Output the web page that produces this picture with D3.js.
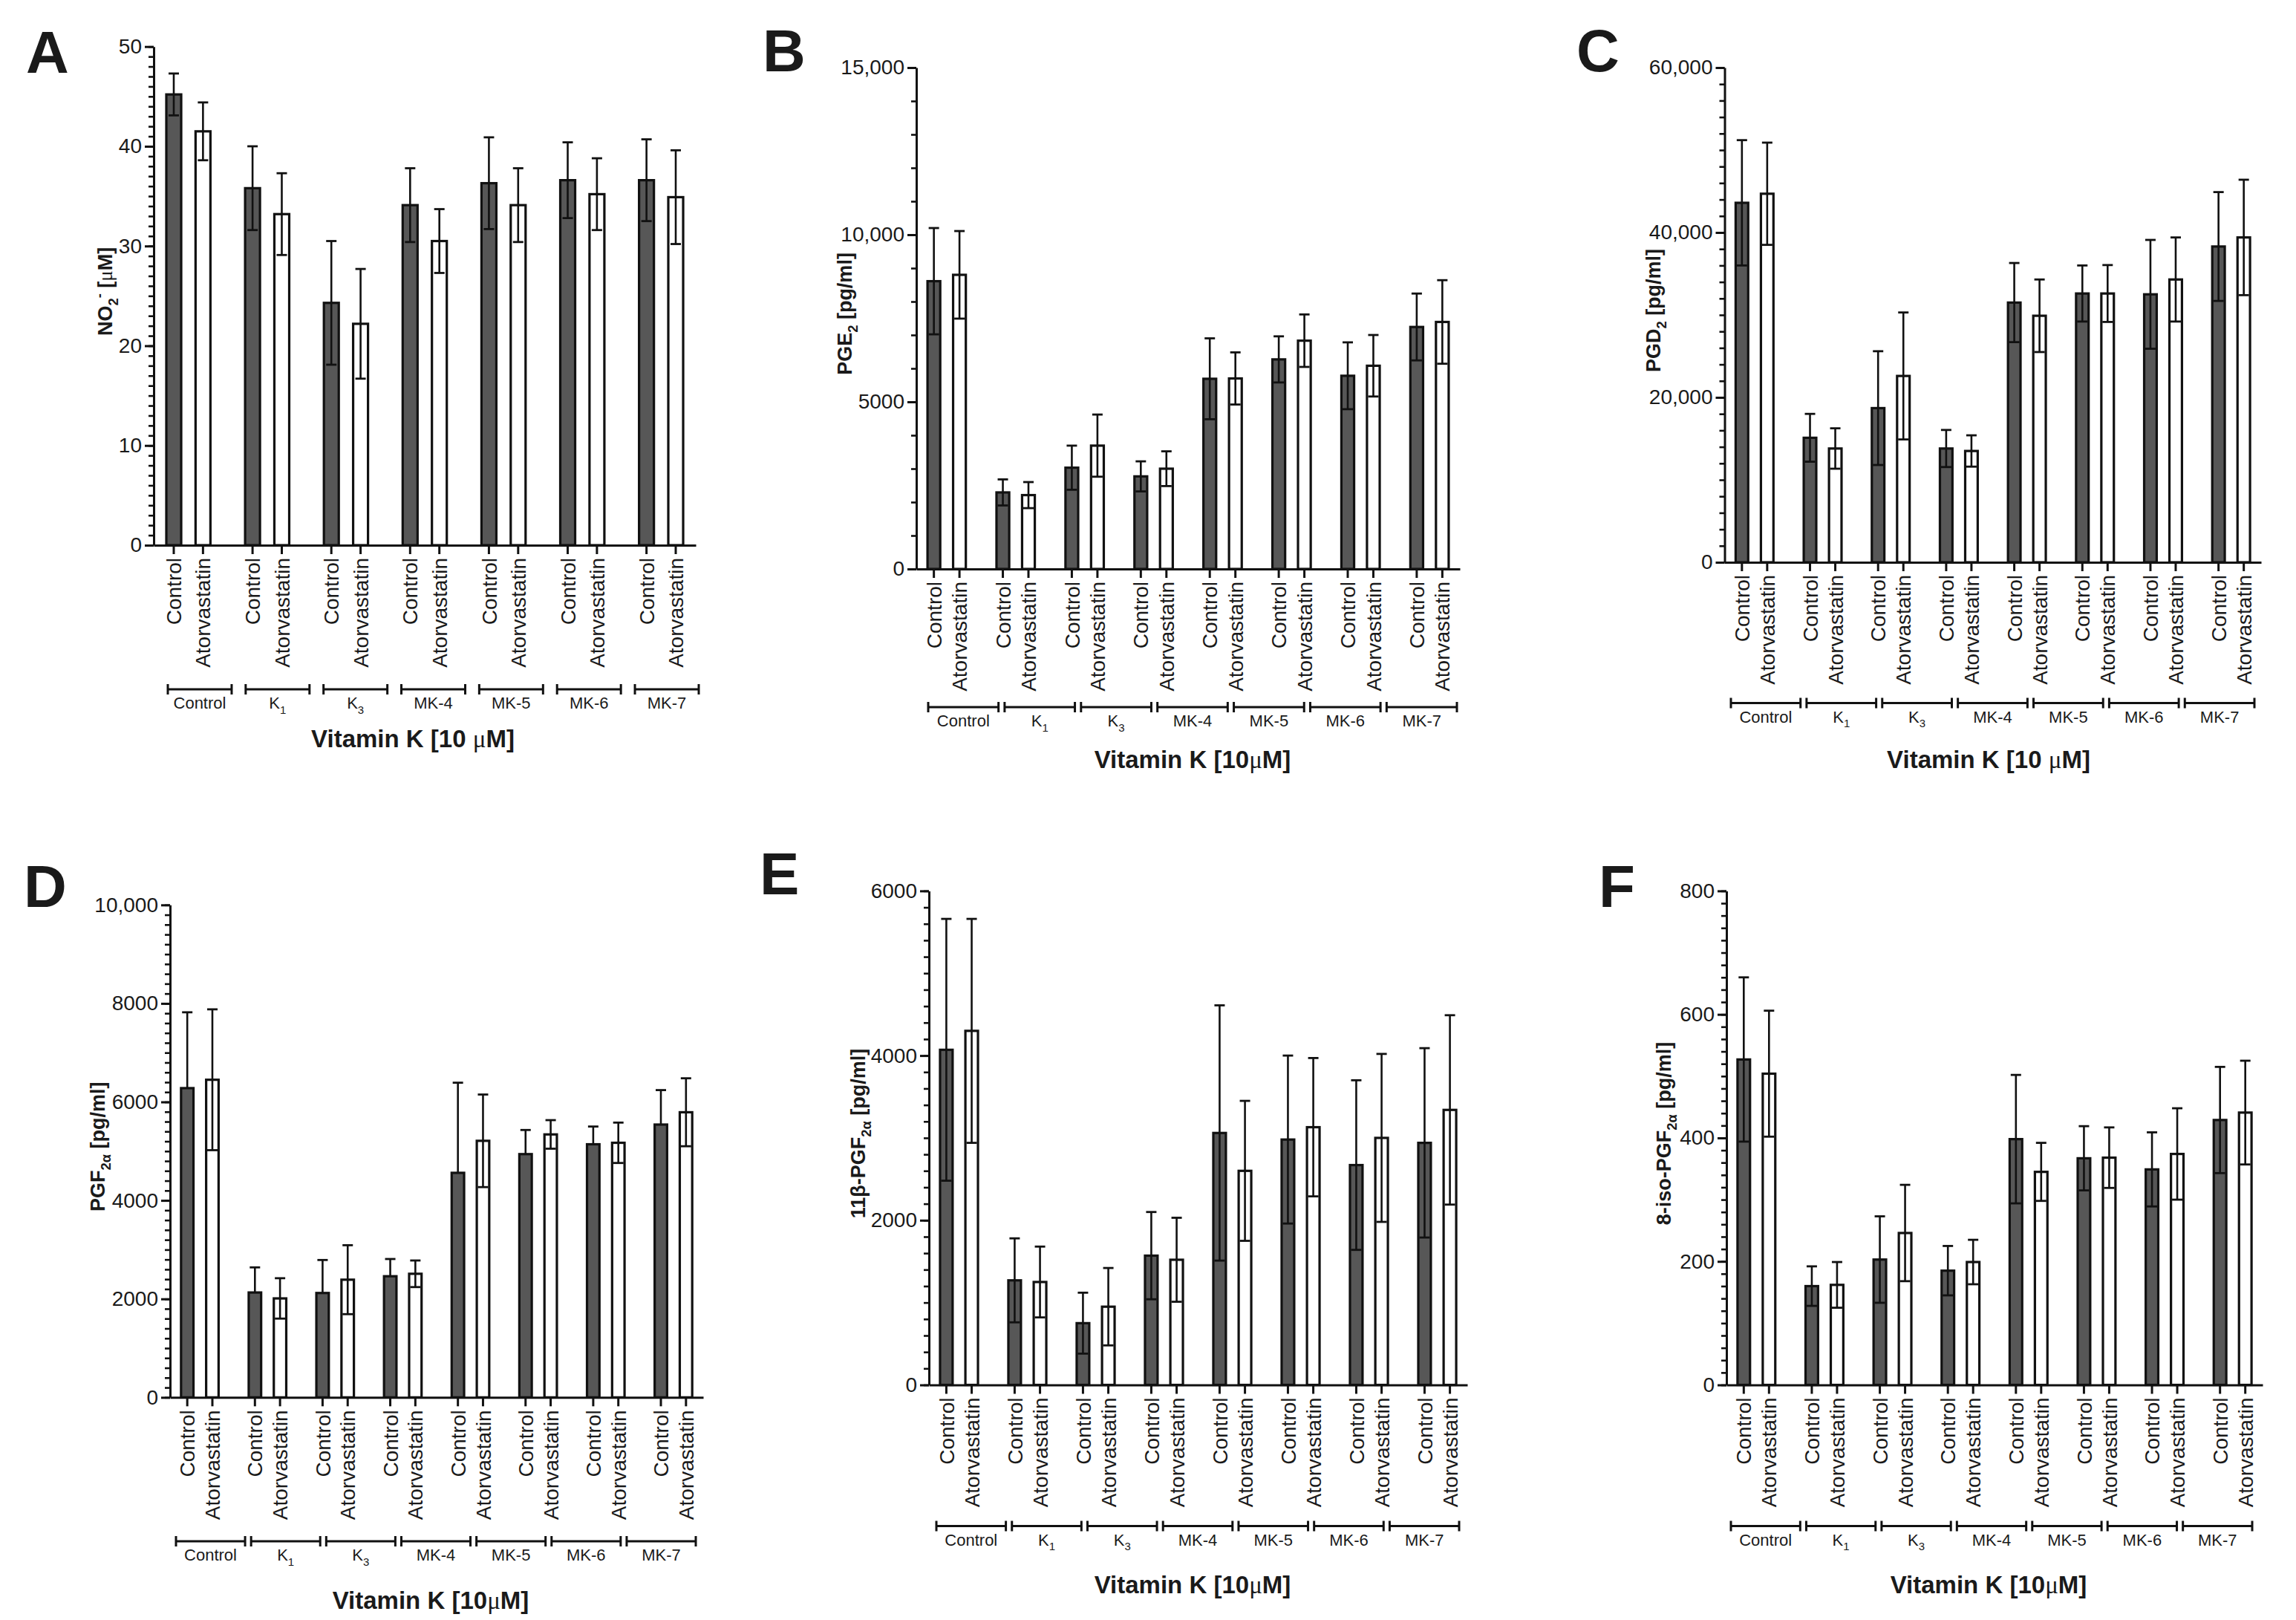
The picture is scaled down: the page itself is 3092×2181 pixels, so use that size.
<!DOCTYPE html>
<html>
<head>
<meta charset="utf-8">
<script src="https://cdn.jsdelivr.net/npm/d3@7/dist/d3.min.js"></script>
<style>
  body { margin: 0; background: #fff; }
  text { font-family: "Liberation Sans", Arial, sans-serif; fill: #1a1a1a; }
</style>
</head>
<body>
<div id="chart"></div>
<script>
var treatments = ["Control", "Atorvastatin"];

// panel A has 7 pairs, panels B-F have 8 pairs
var groupsA = ["Control", "K1", "K3", "MK-4", "MK-5", "MK-6", "MK-7"];
var pairs = ["p1", "p2", "p3", "p4", "p5", "p6", "p7", "p8"];
var bracketLabels = ["Control", "K1", "K3", "MK-4", "MK-5", "MK-6", "MK-7"];

// A  NO2- [uM]
var aCtrl = [45.2, 35.8, 24.3, 34.1, 36.3, 36.6, 36.6];
var aCtrlSD = [2.1, 4.2, 6.2, 3.7, 4.6, 3.8, 4.1];
var aAtor = [41.5, 33.2, 22.2, 30.5, 34.1, 35.2, 34.9];
var aAtorSD = [2.9, 4.1, 5.5, 3.2, 3.7, 3.6, 4.7];
var ticksA = [0, 10, 20, 30, 40, 50];

// B  PGE2 [pg/ml]
var bCtrl = [8610, 2290, 3030, 2770, 5690, 6270, 5780, 7240];
var bCtrlSD = [1590, 390, 660, 450, 1210, 690, 1000, 1000];
var bAtor = [8800, 2210, 3690, 3000, 5700, 6830, 6080, 7390];
var bAtorSD = [1310, 390, 930, 520, 780, 785, 920, 1250];
var ticksB = [0, 5000, 10000, 15000];

// C  PGD2 [pg/ml]
var cCtrl = [43600, 15100, 18700, 13800, 31500, 32600, 32500, 38300];
var cCtrlSD = [7600, 2900, 6900, 2250, 4800, 3400, 6600, 6600];
var cAtor = [44700, 13800, 22600, 13500, 29900, 32600, 34300, 39400];
var cAtorSD = [6200, 2450, 7700, 1900, 4400, 3450, 5100, 7000];
var ticksC = [0, 20000, 40000, 60000];

// D  PGF2a [pg/ml]
var dCtrl = [6280, 2130, 2120, 2460, 4560, 4940, 5140, 5540];
var dCtrlSD = [1540, 510, 670, 350, 1830, 490, 360, 700];
var dAtor = [6450, 2010, 2390, 2510, 5210, 5340, 5170, 5790];
var dAtorSD = [1430, 410, 700, 270, 940, 290, 410, 690];
var ticksD = [0, 2000, 4000, 6000, 8000, 10000];

// E  11b-PGF2a [pg/ml]
var eCtrl = [4070, 1270, 750, 1570, 3060, 2980, 2670, 2940];
var eCtrlSD = [1590, 510, 370, 530, 1550, 1020, 1030, 1150];
var eAtor = [4300, 1250, 950, 1520, 2600, 3130, 3000, 3340];
var eAtorSD = [1360, 430, 470, 510, 850, 840, 1020, 1150];
var ticksE = [0, 2000, 4000, 6000];

// F  8-iso-PGF2a [pg/ml]
var fCtrl = [527, 160, 203, 185, 398, 367, 349, 429];
var fCtrlSD = [133, 32, 70, 40, 104, 52, 60, 86];
var fAtor = [504, 162, 246, 199, 345, 368, 374, 441];
var fAtorSD = [102, 37, 78, 36, 47, 49, 74, 84];
var ticksF = [0, 200, 400, 600, 800];

var serif = "'Liberation Serif', 'DejaVu Serif', serif";
var mu = "\u03bc";

var panels = [
    {letter: "A", groups: groupsA, ctrl: aCtrl, ctrlSD: aCtrlSD, ator: aAtor, atorSD: aAtorSD,
     ticks: ticksA, minor: 1,
     yTitle: [{t: "NO"}, {t: "2", s: "sub"}, {t: "-", s: "sup"}, {t: " ["}, {t: mu, f: serif}, {t: "M]"}],
     xTitle: [{t: "Vitamin K [10 "}, {t: mu, f: serif}, {t: "M]"}],
     x0: 207, x1: 937, yTop: 62.7, y0: 734, lx: 35, ly: 97.6, yTitleX: 151,
     bx: [226, 941], bY: 928, bPad: 0.18, xTitleX: 556, xTitleY: 1006},
    {letter: "B", groups: pairs, ctrl: bCtrl, ctrlSD: bCtrlSD, ator: bAtor, atorSD: bAtorSD,
     ticks: ticksB, minor: 1000,
     yTitle: [{t: "PGE"}, {t: "2", s: "sub"}, {t: " [pg/ml]"}],
     xTitle: [{t: "Vitamin K [10"}, {t: mu, f: serif}, {t: "M]"}],
     x0: 1234, x1: 1966, yTop: 91, y0: 766, lx: 1027, ly: 96, yTitleX: 1147,
     bx: [1250, 1962], bY: 952, bPad: 0.08, xTitleX: 1606, xTitleY: 1034},
    {letter: "C", groups: pairs, ctrl: cCtrl, ctrlSD: cCtrlSD, ator: cAtor, atorSD: cAtorSD,
     ticks: ticksC, minor: 2000,
     yTitle: [{t: "PGD"}, {t: "2", s: "sub"}, {t: " [pg/ml]"}],
     xTitle: [{t: "Vitamin K [10 "}, {t: mu, f: serif}, {t: "M]"}],
     x0: 2322.5, x1: 3045, yTop: 91, y0: 757, lx: 2123, ly: 96, yTitleX: 2236,
     bx: [2331, 3036], bY: 946.5, bPad: 0.08, xTitleX: 2678, xTitleY: 1034},
    {letter: "D", groups: pairs, ctrl: dCtrl, ctrlSD: dCtrlSD, ator: dAtor, atorSD: dAtorSD,
     ticks: ticksD, minor: 200, noLowerDark: true,
     yTitle: [{t: "PGF"}, {t: "2\u03b1", s: "sub"}, {t: " [pg/ml]"}],
     xTitle: [{t: "Vitamin K [10"}, {t: mu, f: serif}, {t: "M]"}],
     x0: 229, x1: 947, yTop: 1218.3, y0: 1881.3, lx: 32, ly: 1221, yTitleX: 141,
     bx: [237, 937], bY: 2075, bPad: 0.08, xTitleX: 580, xTitleY: 2166},
    {letter: "E", groups: pairs, ctrl: eCtrl, ctrlSD: eCtrlSD, ator: eAtor, atorSD: eAtorSD,
     ticks: ticksE, minor: 200,
     yTitle: [{t: "11\u03b2-PGF"}, {t: "2\u03b1", s: "sub"}, {t: " [pg/ml]"}],
     xTitle: [{t: "Vitamin K [10"}, {t: mu, f: serif}, {t: "M]"}],
     x0: 1251, x1: 1976, yTop: 1199.4, y0: 1864.5, lx: 1023, ly: 1204, yTitleX: 1165,
     bx: [1261, 1965], bY: 2054.5, bPad: 0.08, xTitleX: 1606, xTitleY: 2145},
    {letter: "F", groups: pairs, ctrl: fCtrl, ctrlSD: fCtrlSD, ator: fAtor, atorSD: fAtorSD,
     ticks: ticksF, minor: 20,
     yTitle: [{t: "8-iso-PGF"}, {t: "2\u03b1", s: "sub"}, {t: " [pg/ml]"}],
     xTitle: [{t: "Vitamin K [10"}, {t: mu, f: serif}, {t: "M]"}],
     x0: 2325, x1: 3047, yTop: 1199.4, y0: 1864.5, lx: 2153, ly: 1221, yTitleX: 2250,
     bx: [2331, 3033], bY: 2054.5, bPad: 0.08, xTitleX: 2678, xTitleY: 2145}
];

var svg = d3.select("#chart").append("svg")
    .attr("width", 3092)
    .attr("height", 2181);

svg.append("rect").attr("width", 3092).attr("height", 2181).attr("fill", "#fff");

var darkFill = "#575757";
var barStroke = 3.2;

// text with sub / superscript parts
function richText(sel, parts, size) {
    var shift = 0;
    parts.forEach(function(p) {
        var target = 0, fs = size;
        if (p.s === "sub") { target = size * 0.3; fs = size * 0.68; }
        if (p.s === "sup") { target = -size * 0.4; fs = size * 0.68; }
        var ts = sel.append("tspan").text(p.t)
            .attr("dy", target - shift)
            .attr("font-size", fs);
        if (p.f) ts.attr("font-family", p.f).attr("font-weight", "normal");
        shift = target;
    });
}

function fmt(v) {
    return v >= 10000 ? d3.format(",")(v) : String(v);
}

function drawPanel(cfg) {
    var g = svg.append("g");
    var max = d3.max(cfg.ticks);

    var yScale = d3.scaleLinear()
        .domain([0, max])
        .range([cfg.y0, cfg.yTop]);

    var xScale = d3.scaleBand()
        .domain(cfg.groups)
        .range([cfg.x0, cfg.x1])
        .paddingInner(0.41)
        .paddingOuter(0.145);

    var xInner = d3.scaleBand()
        .domain(treatments)
        .range([0, xScale.bandwidth()])
        .paddingInner(0.41);

    //y轴 minor ticks
    g.append("g")
        .attr("transform", "translate(" + cfg.x0 + ",0)")
        .call(d3.axisLeft(yScale).tickValues(d3.range(0, max + cfg.minor / 2, cfg.minor)).tickSize(7).tickFormat(""))
        .call(function(s) { s.select(".domain").remove(); })
        .selectAll("line").attr("stroke", "#111").attr("stroke-width", 2.6);

    //y轴 major ticks
    var yAxis = g.append("g")
        .attr("transform", "translate(" + cfg.x0 + ",0)")
        .call(d3.axisLeft(yScale).tickValues(cfg.ticks).tickSize(12).tickSizeOuter(0).tickPadding(4).tickFormat(fmt));
    yAxis.select(".domain").attr("stroke", "#111").attr("stroke-width", 3);
    yAxis.selectAll(".tick line").attr("stroke", "#111").attr("stroke-width", 3);
    yAxis.selectAll(".tick text")
        .attr("font-size", 28)
        .attr("font-family", "'Liberation Sans', Arial, sans-serif")
        .attr("fill", "#1a1a1a");

    var rows = [];
    cfg.groups.forEach(function(k, i) {
        rows.push({g: k, t: "Control", v: cfg.ctrl[i], e: cfg.ctrlSD[i], dark: true});
        rows.push({g: k, t: "Atorvastatin", v: cfg.ator[i], e: cfg.atorSD[i], dark: false});
    });
    function cx(d) { return xScale(d.g) + xInner(d.t) + xInner.bandwidth() / 2; }

    //柱子
    g.selectAll(".bar")
        .data(rows)
        .enter()
        .append("rect")
        .attr("x", function(d) { return xScale(d.g) + xInner(d.t) + barStroke / 2; })
        .attr("y", function(d) { return yScale(d.v); })
        .attr("width", xInner.bandwidth() - barStroke)
        .attr("height", function(d) { return yScale(0) - yScale(d.v); })
        .attr("fill", function(d) { return d.dark ? darkFill : "#fff"; })
        .attr("stroke", "#111")
        .attr("stroke-width", barStroke);

    //误差线
    var capW = 14;
    var eb = g.selectAll(".err")
        .data(rows)
        .enter()
        .append("g");
    eb.append("line")
        .attr("x1", cx).attr("x2", cx)
        .attr("y1", function(d) {
            return (cfg.noLowerDark && d.dark) ? yScale(d.v) : yScale(d.v - d.e);
        })
        .attr("y2", function(d) { return yScale(d.v + d.e); })
        .attr("stroke", "#111").attr("stroke-width", 2.6);
    eb.append("line")
        .attr("x1", function(d) { return cx(d) - capW / 2; })
        .attr("x2", function(d) { return cx(d) + capW / 2; })
        .attr("y1", function(d) { return yScale(d.v + d.e); })
        .attr("y2", function(d) { return yScale(d.v + d.e); })
        .attr("stroke", "#111").attr("stroke-width", 2.8);
    eb.filter(function(d) { return !(cfg.noLowerDark && d.dark); })
        .append("line")
        .attr("x1", function(d) { return cx(d) - capW / 2; })
        .attr("x2", function(d) { return cx(d) + capW / 2; })
        .attr("y1", function(d) { return yScale(d.v - d.e); })
        .attr("y2", function(d) { return yScale(d.v - d.e); })
        .attr("stroke", "#111").attr("stroke-width", 2.8);

    //x轴
    var xAxis = g.append("g")
        .attr("transform", "translate(0," + cfg.y0 + ")")
        .call(d3.axisBottom(xScale).tickSize(0).tickSizeOuter(0).tickFormat(""));
    xAxis.select(".domain").attr("stroke", "#111").attr("stroke-width", 3);
    xAxis.selectAll(".tick").remove();

    g.selectAll(".xtick")
        .data(rows)
        .enter()
        .append("line")
        .attr("x1", cx).attr("x2", cx)
        .attr("y1", cfg.y0).attr("y2", cfg.y0 + 12)
        .attr("stroke", "#111").attr("stroke-width", 3);

    g.selectAll(".xlabel")
        .data(rows)
        .enter()
        .append("text")
        .attr("transform", function(d) {
            return "translate(" + cx(d) + "," + (cfg.y0 + 17) + ") rotate(-90)";
        })
        .attr("text-anchor", "end")
        .attr("dy", "0.36em")
        .attr("font-size", 28)
        .text(function(d) { return d.t; });

    //分组括号
    var bScale = d3.scaleBand()
        .domain(bracketLabels)
        .range(cfg.bx)
        .paddingInner(cfg.bPad);
    var br = g.selectAll(".bracket")
        .data(bracketLabels)
        .enter()
        .append("g")
        .attr("transform", function(d) { return "translate(" + bScale(d) + "," + cfg.bY + ")"; });
    br.append("line")
        .attr("x1", 0).attr("x2", bScale.bandwidth())
        .attr("stroke", "#111").attr("stroke-width", 3);
    br.append("line")
        .attr("x1", 0).attr("x2", 0).attr("y1", -7).attr("y2", 7)
        .attr("stroke", "#111").attr("stroke-width", 3);
    br.append("line")
        .attr("x1", bScale.bandwidth()).attr("x2", bScale.bandwidth()).attr("y1", -7).attr("y2", 7)
        .attr("stroke", "#111").attr("stroke-width", 3);
    br.append("text")
        .attr("x", bScale.bandwidth() / 2)
        .attr("y", 26)
        .attr("text-anchor", "middle")
        .attr("font-size", 22)
        .each(function(d) {
            var m = d.match(/^K(\d)$/);
            if (m) richText(d3.select(this), [{t: "K"}, {t: m[1], s: "sub"}], 22);
            else d3.select(this).text(d);
        });

    //标题
    var yt = g.append("text")
        .attr("transform", "translate(" + cfg.yTitleX + "," + ((cfg.yTop + cfg.y0) / 2 - 6) + ") rotate(-90)")
        .attr("text-anchor", "middle")
        .attr("font-size", 27)
        .attr("font-weight", "bold");
    richText(yt, cfg.yTitle, 27);

    var xt = g.append("text")
        .attr("x", cfg.xTitleX)
        .attr("y", cfg.xTitleY)
        .attr("text-anchor", "middle")
        .attr("font-size", 33)
        .attr("font-weight", "bold");
    richText(xt, cfg.xTitle, 33);

    g.append("text")
        .attr("x", cfg.lx)
        .attr("y", cfg.ly)
        .attr("font-size", 80)
        .attr("font-weight", "bold")
        .attr("fill", "#000")
        .text(cfg.letter);
}

panels.forEach(drawPanel);
</script>
</body>
</html>
